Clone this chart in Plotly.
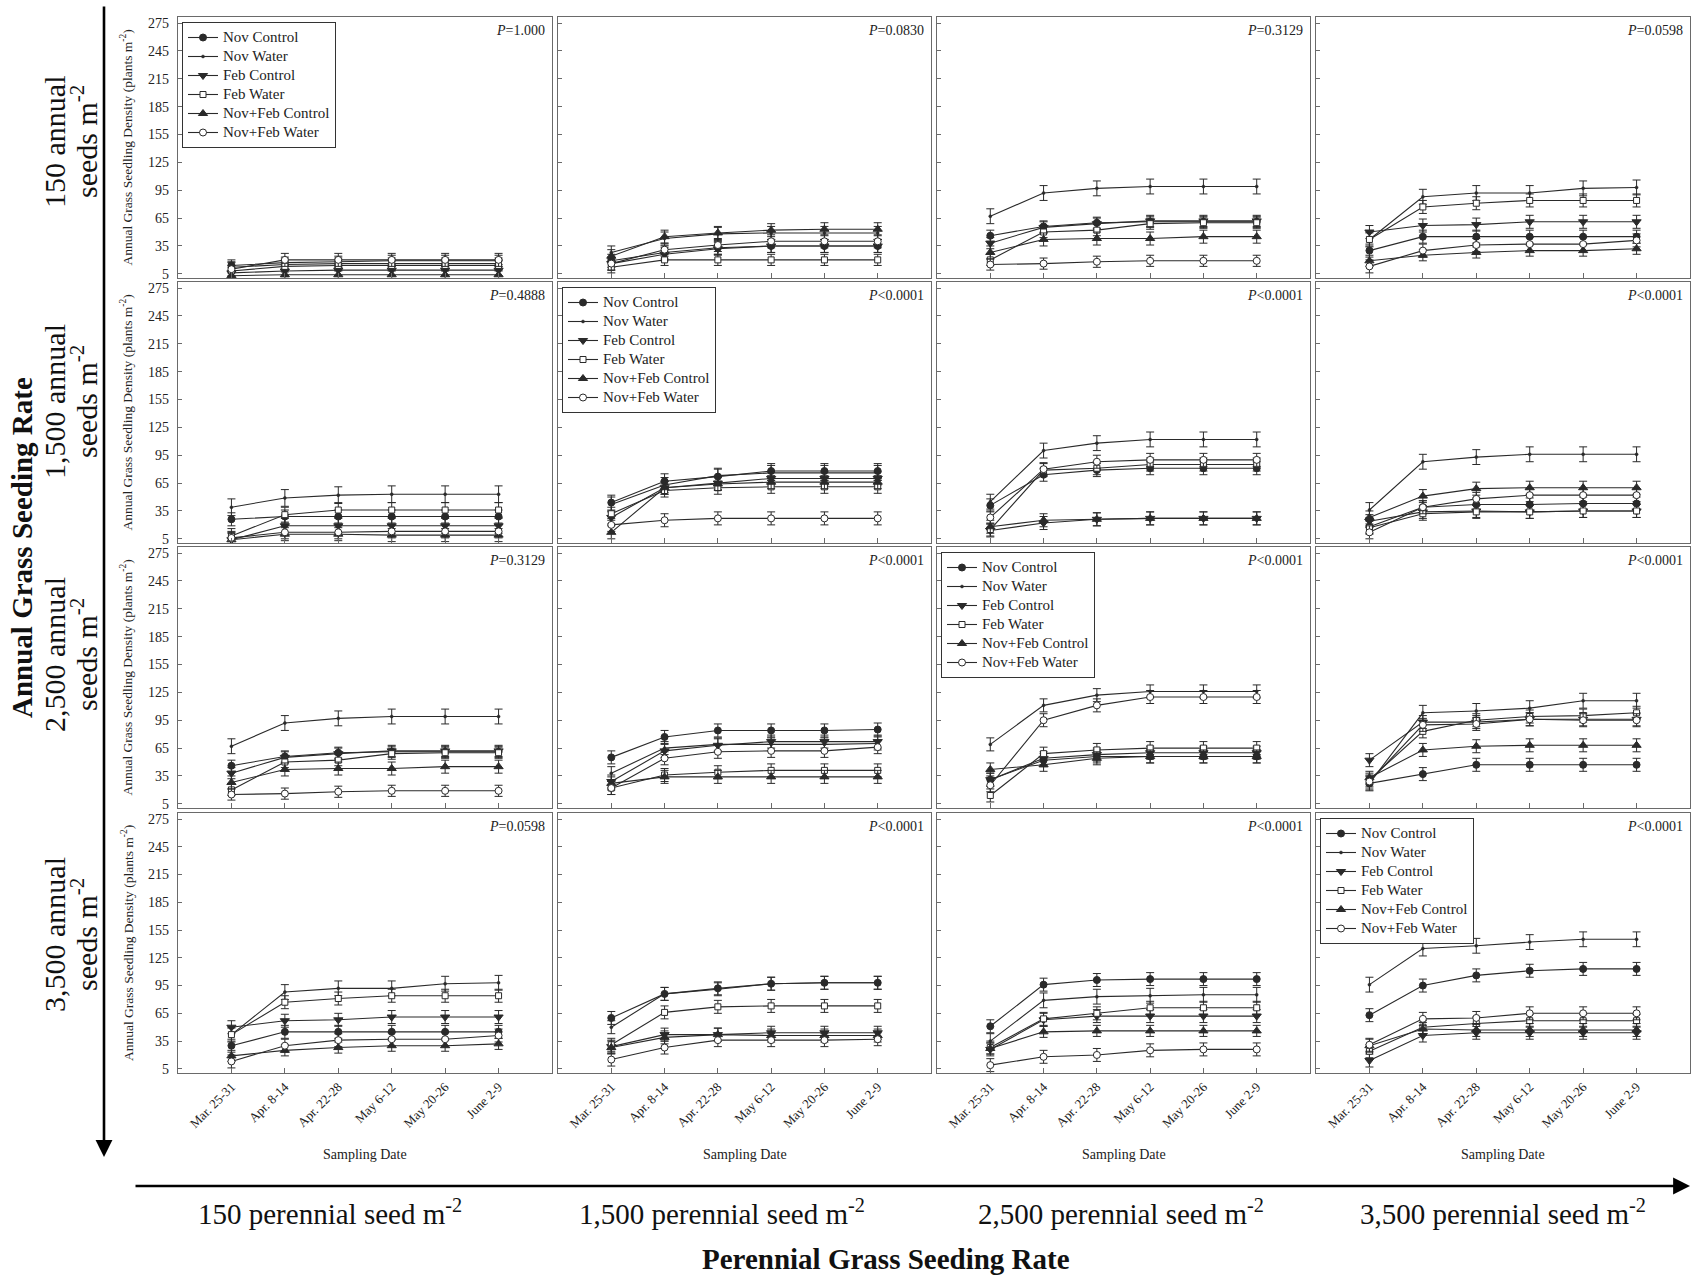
import plotly.graph_objects as go

W, H = 1695, 1277
FONT = "Liberation Serif, Times New Roman, serif"

DATES = ["Mar. 25-31", "Apr. 8-14", "Apr. 22-28", "May 6-12", "May 20-26", "June 2-9"]
SERIES = ["Nov Control", "Nov Water", "Feb Control", "Feb Water", "Nov+Feb Control", "Nov+Feb Water"]
YTICKS = [5, 35, 65, 95, 125, 155, 185, 215, 245, 275]
ROW_LABELS = ["150 annual", "1,500 annual", "2,500 annual", "3,500 annual"]
COL_LABELS = ["150 perennial seed m<sup>-2</sup>", "1,500 perennial seed m<sup>-2</sup>",
              "2,500 perennial seed m<sup>-2</sup>", "3,500 perennial seed m<sup>-2</sup>"]
P_TEXT = [
    ["<i>P</i>=1.000", "<i>P</i>=0.0830", "<i>P</i>=0.3129", "<i>P</i>=0.0598"],
    ["<i>P</i>=0.4888", "<i>P</i><0.0001", "<i>P</i><0.0001", "<i>P</i><0.0001"],
    ["<i>P</i>=0.3129", "<i>P</i><0.0001", "<i>P</i><0.0001", "<i>P</i><0.0001"],
    ["<i>P</i>=0.0598", "<i>P</i><0.0001", "<i>P</i><0.0001", "<i>P</i><0.0001"],
]

# series order in every panel: Nov Control, Nov Water, Feb Control, Feb Water, Nov+Feb Control, Nov+Feb Water
R1C1 = [[14, 17, 18, 19, 19, 19], [12, 15, 16, 16, 16, 16], [6, 8, 9, 9, 9, 9],
        [8, 13, 14, 14, 14, 14], [3, 4, 4, 4, 4, 4], [10, 20, 20, 20, 20, 20]]
R1C2 = [[19, 28, 33, 35, 35, 35], [28, 43, 48, 49, 49, 49], [16, 26, 32, 35, 35, 35],
        [12, 20, 20, 20, 20, 20], [24, 45, 49, 52, 53, 53], [16, 31, 36, 40, 40, 40]]
R1C3 = [[46, 56, 60, 61, 61, 61], [67, 92, 97, 99, 99, 99], [38, 55, 59, 62, 62, 62],
        [20, 50, 52, 59, 60, 60], [28, 42, 43, 43, 45, 45], [15, 16, 18, 19, 19, 19]]
R1C4 = [[30, 45, 45, 45, 45, 45], [42, 88, 92, 92, 97, 98], [50, 57, 58, 61, 61, 61],
        [42, 77, 81, 84, 84, 84], [19, 25, 28, 30, 30, 32], [13, 30, 36, 37, 37, 41]]
R2C1 = [[26, 29, 29, 29, 29, 29], [39, 49, 52, 53, 53, 53], [4, 19, 19, 19, 19, 19],
        [8, 31, 36, 36, 36, 36], [4, 10, 10, 9, 9, 9], [6, 12, 12, 13, 13, 13]]
R2C2 = [[44, 67, 72, 78, 78, 78], [42, 63, 73, 76, 76, 76], [28, 60, 65, 70, 70, 70],
        [32, 57, 60, 61, 61, 61], [12, 60, 64, 66, 66, 66], [20, 25, 27, 27, 27, 27]]
R2C3 = [[41, 74, 79, 81, 81, 81], [45, 100, 108, 112, 112, 112], [14, 22, 26, 27, 27, 27],
        [15, 79, 81, 85, 85, 85], [18, 25, 26, 27, 27, 27], [28, 80, 88, 90, 90, 90]]
R2C4 = [[18, 39, 42, 42, 43, 43], [36, 88, 93, 96, 96, 96], [24, 34, 35, 34, 35, 35],
        [17, 32, 34, 34, 35, 35], [28, 51, 59, 60, 60, 60], [12, 39, 48, 52, 52, 52]]
R3C1 = [[46, 56, 60, 61, 61, 61], [67, 92, 97, 99, 99, 99], [38, 55, 59, 62, 62, 62],
        [20, 50, 52, 59, 60, 60], [28, 42, 43, 43, 45, 45], [15, 16, 18, 19, 19, 19]]
R3C2 = [[55, 77, 84, 84, 84, 85], [38, 65, 69, 69, 69, 70], [29, 62, 68, 72, 72, 72],
        [22, 36, 39, 41, 41, 41], [27, 34, 34, 34, 34, 34], [22, 54, 61, 62, 62, 66]]
R3C3 = [[31, 52, 56, 56, 56, 56], [69, 111, 122, 126, 126, 126], [31, 54, 58, 60, 60, 60],
        [14, 59, 63, 65, 65, 65], [42, 47, 54, 56, 56, 56], [25, 95, 111, 120, 120, 120]]
R3C4 = [[27, 37, 47, 47, 47, 47], [27, 103, 105, 108, 116, 116], [52, 93, 93, 96, 96, 96],
        [31, 83, 95, 99, 100, 103], [33, 63, 67, 68, 68, 68], [29, 90, 91, 96, 95, 95]]
R4C1 = [[30, 45, 45, 45, 45, 45], [42, 88, 92, 92, 97, 98], [50, 57, 58, 61, 61, 61],
        [42, 77, 81, 84, 84, 84], [19, 25, 28, 30, 30, 32], [13, 30, 36, 37, 37, 41]]
R4C2 = [[60, 86, 92, 97, 98, 98], [50, 86, 91, 97, 98, 98], [29, 42, 42, 44, 44, 44],
        [31, 66, 72, 73, 73, 73], [28, 39, 42, 41, 41, 41], [15, 28, 36, 36, 36, 37]]
R4C3 = [[51, 96, 101, 102, 102, 102], [35, 79, 83, 84, 85, 85], [26, 58, 62, 62, 62, 62],
        [28, 59, 65, 71, 71, 71], [27, 45, 46, 46, 46, 46], [9, 18, 20, 25, 26, 26]]
R4C4 = [[63, 95, 106, 111, 113, 113], [96, 135, 138, 142, 145, 145], [14, 41, 44, 44, 44, 44],
        [24, 50, 54, 57, 57, 57], [30, 48, 47, 47, 47, 47], [31, 59, 60, 65, 65, 65]]

# standard error per series (same order) for each panel
ERR = [
    [[6, 6, 6, 6, 5, 7], [7, 7, 7, 6, 7, 7], [6, 8, 6, 6, 7, 6], [7, 8, 7, 7, 6, 7]],
    [[7, 9, 8, 8, 7, 7], [8, 8, 7, 7, 7, 7], [7, 8, 7, 7, 7, 7], [7, 8, 7, 7, 7, 7]],
    [[6, 8, 6, 6, 7, 6], [7, 7, 7, 7, 7, 7], [7, 7, 7, 7, 7, 7], [7, 8, 7, 7, 7, 7]],
    [[7, 8, 7, 7, 6, 7], [7, 7, 7, 7, 7, 7], [7, 8, 7, 7, 6, 7], [7, 8, 7, 7, 7, 7]],
]

PANELS = [[R1C1, R1C2, R1C3, R1C4], [R2C1, R2C2, R2C3, R2C4],
          [R3C1, R3C2, R3C3, R3C4], [R4C1, R4C2, R4C3, R4C4]]

COL_PX = [(178, 552), (558, 931), (937, 1310), (1316, 1690)]
ROW_PX = [(17, 278), (282, 543), (547, 808), (813, 1073)]

INK = "#2a2a2a"
FRAME = "#6a6a6a"
MARKERS = [
    dict(symbol="circle", size=7, color=INK, line=dict(color=INK, width=1)),
    dict(symbol="circle", size=3, color=INK, line=dict(color=INK, width=0.5)),
    dict(symbol="triangle-down", size=8, color=INK, line=dict(color=INK, width=1)),
    dict(symbol="square", size=6, color="white", line=dict(color=INK, width=1)),
    dict(symbol="triangle-up", size=8, color=INK, line=dict(color=INK, width=1)),
    dict(symbol="circle", size=7, color="white", line=dict(color=INK, width=1)),
]


def px_x(v):
    return v / W


def px_y(v):
    return 1 - v / H


def label(text, x, y, size, angle=0, color="#111", xanchor="center", yanchor="middle"):
    return dict(text=text, xref="paper", yref="paper", x=px_x(x), y=px_y(y),
                xanchor=xanchor, yanchor=yanchor, textangle=angle, showarrow=False,
                font=dict(family=FONT, size=size, color=color))


fig = go.Figure()
layout = {}
annotations = []

for r in range(4):
    for c in range(4):
        k = r * 4 + c + 1
        xa = "x" if k == 1 else f"x{k}"
        ya = "y" if k == 1 else f"y{k}"
        data = PANELS[r][c]
        errs = ERR[r][c]
        for s in range(6):
            tr = dict(
                x=list(range(6)), y=data[s],
                name=f'<span style="font-size:15px">{SERIES[s]}</span>',
                mode="lines+markers",
                line=dict(color=INK, width=1.1),
                marker=MARKERS[s],
                error_y=dict(type="data", array=[errs[s]] * 6, color=INK, thickness=1, width=4),
                xaxis=xa, yaxis=ya, hoverinfo="skip",
            )
            if r == c:
                tr["showlegend"] = True
                tr["legend"] = "legend" if r == 0 else f"legend{r + 1}"
            else:
                tr["showlegend"] = False
            fig.add_trace(go.Scatter(**tr))

        x0, x1 = COL_PX[c]
        y0, y1 = ROW_PX[r]
        layout["xaxis" if k == 1 else f"xaxis{k}"] = dict(
            domain=[px_x(x0), px_x(x1)], anchor=ya, range=[-1, 6],
            tickmode="array", tickvals=list(range(6)), ticktext=DATES,
            showticklabels=(r == 3), tickangle=-45,
            tickfont=dict(family=FONT, size=13, color="#222"),
            ticks="inside", ticklen=5, tickcolor=FRAME,
            showline=True, mirror=True, linecolor=FRAME, linewidth=1.2,
            showgrid=False, zeroline=False, fixedrange=True,
        )
        layout["yaxis" if k == 1 else f"yaxis{k}"] = dict(
            domain=[px_y(y1), px_y(y0)], anchor=xa, range=[0.5, 281.5],
            tickmode="array", tickvals=YTICKS,
            showticklabels=(c == 0),
            tickfont=dict(family=FONT, size=14, color="#222"),
            ticks="inside", ticklen=4, tickcolor=FRAME, ticklabelstandoff=5,
            showline=True, mirror=True, linecolor=FRAME, linewidth=1.2,
            showgrid=False, zeroline=False, fixedrange=True,
        )
        annotations.append(label(P_TEXT[r][c], x1 - 5, y0 + 4, 14, color="#222",
                                 xanchor="right", yanchor="top"))

# legends on the diagonal panels
for i in range(4):
    layout["legend" if i == 0 else f"legend{i + 1}"] = dict(
        x=px_x(COL_PX[i][0] + 4), y=px_y(ROW_PX[i][0] + 5),
        xanchor="left", yanchor="top", bgcolor="white",
        bordercolor="#333", borderwidth=1,
        font=dict(family=FONT, size=12, color="#222"),
        tracegroupgap=0,
    )

# per-row y titles and row labels
ROW_LAB_Y = [142, 402, 655, 935]
for r in range(4):
    yc = (ROW_PX[r][0] + ROW_PX[r][1]) / 2
    annotations.append(label("Annual Grass Seedling Density (plants m<sup>-2</sup>)",
                             127, yc, 13.5, angle=-90, color="#222"))
    annotations.append(label(ROW_LABELS[r], 54, ROW_LAB_Y[r], 30, angle=-90))
    annotations.append(label("seeds m<sup>-2</sup>", 84, ROW_LAB_Y[r], 30, angle=-90))

# column labels
COL_LAB_X = [330, 722, 1121, 1503]
for c in range(4):
    xc = (COL_PX[c][0] + COL_PX[c][1]) / 2
    annotations.append(label("Sampling Date", xc, 1154, 14, color="#222"))
    annotations.append(label(COL_LABELS[c], COL_LAB_X[c], 1212, 29))

annotations.append(label("<b>Perennial Grass Seeding Rate</b>", 886, 1259, 29))
annotations.append(label("<b>Annual Grass Seeding Rate</b>", 22, 548, 29, angle=-90))

# arrows
annotations.append(dict(
    text="", xref="paper", yref="paper", x=px_x(104), y=px_y(1157),
    axref="pixel", ayref="pixel", ax=0, ay=-1152,
    showarrow=True, arrowhead=2, arrowsize=1.3, arrowwidth=2.6, arrowcolor="#000",
))
annotations.append(dict(
    text="", xref="paper", yref="paper", x=px_x(1690), y=px_y(1186),
    axref="pixel", ayref="pixel", ax=-1556, ay=0,
    showarrow=True, arrowhead=2, arrowsize=1.3, arrowwidth=2.6, arrowcolor="#000",
))

fig.update_layout(
    width=W, height=H,
    margin=dict(l=0, r=0, t=0, b=0, autoexpand=False),
    paper_bgcolor="white", plot_bgcolor="white",
    annotations=annotations,
    **layout,
)

fig.write_html("out.html", config={"displayModeBar": False},
               post_script="document.body.style.margin='0';")
